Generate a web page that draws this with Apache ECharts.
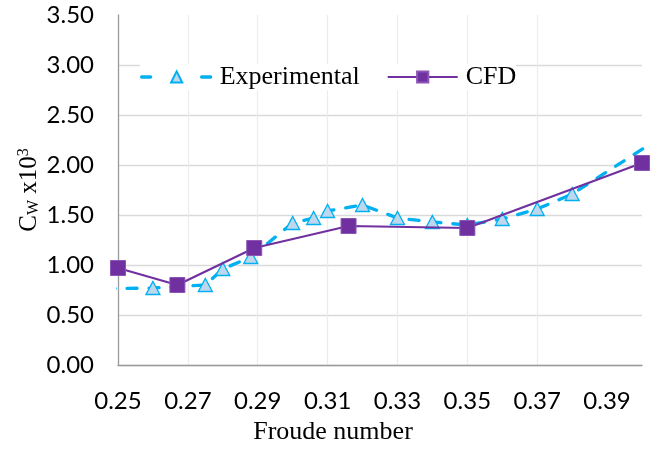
<!DOCTYPE html>
<html>
<head>
<meta charset="utf-8">
<script src="https://cdn.jsdelivr.net/npm/echarts@6/dist/echarts.min.js"></script>
<style>
html,body{margin:0;padding:0;background:#fff;}
#chart{width:651px;height:450px;}
</style>
</head>
<body>
<div id="chart"></div>
<script>
// Experimental data (first and last points lie just outside the visible axis range)
const froudeExp = [0.24, 0.26, 0.275, 0.28, 0.288, 0.30, 0.306, 0.31, 0.32, 0.33, 0.34, 0.35, 0.36, 0.37, 0.38, 0.41];
const cwExp     = [0.76, 0.77, 0.80, 0.96, 1.08, 1.42, 1.47, 1.54, 1.60, 1.47, 1.43, 1.40, 1.46, 1.56, 1.71, 2.38];
// CFD data
const froudeCfd = [0.25, 0.267, 0.289, 0.316, 0.35, 0.40];
const cwCfd     = [0.97, 0.80, 1.17, 1.39, 1.37, 2.02];
// Tick labels
const xTicks = [0.25, 0.27, 0.29, 0.31, 0.33, 0.35, 0.37, 0.39];
const yTicks = [0.00, 0.50, 1.00, 1.50, 2.00, 2.50, 3.00, 3.50];
const seriesNames = ['Experimental', 'CFD'];
const xTitle = 'Froude number';

const pairs = (xs, ys) => xs.map((x, i) => [x, ys[i]]);

const chart = echarts.init(document.getElementById('chart'), null, {renderer: 'canvas'});
const serif = '"Liberation Serif", "Times New Roman", serif';
const sans = 'Lato, "Open Sans", sans-serif';

chart.setOption({
  animation: false,
  backgroundColor: '#fff',
  grid: {left: 118, right: 9, top: 15, bottom: 83, containLabel: false},
  legend: {
    data: [
      {name: seriesNames[0], lineStyle: {type: [9, 51], width: 3.3, cap: 'round', color: '#00b0f0'}},
      {name: seriesNames[1]}
    ],
    left: 140,
    top: 64,
    itemWidth: 70,
    itemHeight: 14,
    itemGap: 27,
    padding: 0,
    backgroundColor: '#fff',
    textStyle: {fontFamily: serif, fontSize: 26, color: '#000', padding: [0, 0, 0, 3], lineHeight: 26}
  },
  xAxis: {
    type: 'value',
    min: 0.25,
    max: 0.40,
    axisLine: {show: true, lineStyle: {color: '#9a9a9a', width: 1.3}},
    axisTick: {show: false, customValues: xTicks},
    axisLabel: {
      customValues: xTicks,
      margin: 24,
      fontFamily: sans, fontSize: 24, color: '#000',
      formatter: v => v.toFixed(2)
    },
    splitLine: {show: true, showMaxLine: false, showMinLine: false, lineStyle: {color: '#ececec', width: 1.2}},
    name: xTitle,
    nameLocation: 'middle',
    nameGap: 54,
    nameMoveOverlap: false,
    nameTextStyle: {fontFamily: serif, fontSize: 26, color: '#000', padding: [0, 94, 0, 0]}
  },
  yAxis: {
    type: 'value',
    min: 0,
    max: 3.5,
    interval: 0.5,
    axisLine: {show: true, lineStyle: {color: '#9a9a9a', width: 1.3}},
    axisTick: {show: false},
    axisLabel: {
      margin: 24,
      fontFamily: sans, fontSize: 24, color: '#000',
      formatter: v => v.toFixed(2)
    },
    splitLine: {show: true, showMaxLine: false, lineStyle: {color: '#dadada', width: 1.3}},
    name: '{c|C}{sub|W}{c| x10}{sup|3}',
    nameLocation: 'middle',
    nameRotate: 90,
    nameGap: 76,
    nameMoveOverlap: false,
    nameTextStyle: {
      rich: {
        c: {fontFamily: serif, fontSize: 25, color: '#000', lineHeight: 26},
        sub: {fontFamily: serif, fontSize: 16, color: '#000', lineHeight: 14, verticalAlign: 'bottom'},
        sup: {fontFamily: serif, fontSize: 16, color: '#000', lineHeight: 16, verticalAlign: 'top'}
      }
    }
  },
  series: [
    {
      name: seriesNames[0],
      type: 'line',
      data: pairs(froudeExp, cwExp),
      clip: true,
      symbol: 'triangle',
      symbolSize: [14, 13],
      lineStyle: {color: '#00b0f0', width: 3.3, type: [10, 12], cap: 'round'},
      itemStyle: {color: '#bdd7ee', borderColor: '#00b0f0', borderWidth: 1.3},
      z: 2
    },
    {
      name: seriesNames[1],
      type: 'line',
      data: pairs(froudeCfd, cwCfd),
      clip: true,
      symbol: 'rect',
      symbolSize: 15,
      lineStyle: {color: '#7030a0', width: 2.2},
      itemStyle: {color: '#7030a0', borderColor: '#8a55b5', borderWidth: 1},
      z: 3
    }
  ]
});
</script>
</body>
</html>
